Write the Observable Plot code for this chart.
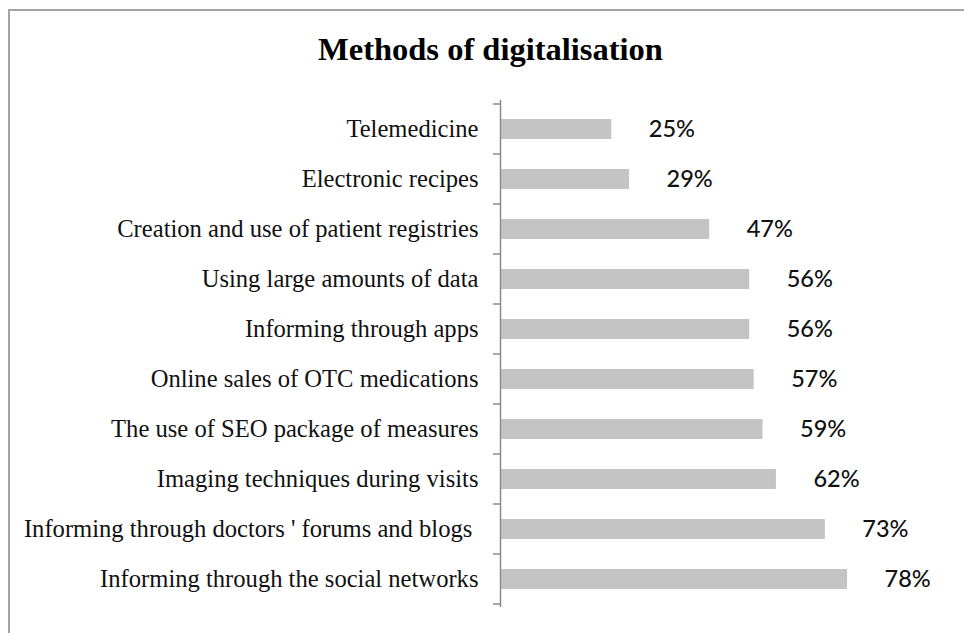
<!DOCTYPE html>
<html>
<head>
<meta charset="utf-8">
<script src="https://cdn.jsdelivr.net/npm/d3@7"></script>
<script src="https://cdn.jsdelivr.net/npm/@observablehq/plot@0.6"></script>
<style>
  html, body { margin: 0; padding: 0; background: #fff; }
  #wrap { position: relative; width: 964px; height: 633px; overflow: hidden; background: #fff; }
  #frame { position: absolute; left: 8px; top: 9px; width: 1000px; height: 700px;
           border-left: 2px solid #a3a3a3; border-top: 2px solid #a3a3a3; box-sizing: border-box; }
  #title { position: absolute; left: 0; top: 33px; width: 981px; text-align: center;
           font-family: "Liberation Serif", "Times New Roman", serif; font-weight: bold;
           font-size: 32.5px; line-height: 32px; color: #000; }
  #chart { position: absolute; left: 0; top: 0; }
</style>
</head>
<body>
<div id="wrap">
  <div id="frame"></div>
  <div id="chart"></div>
  <div id="title">Methods of digitalisation</div>
</div>
<script>
const categories = [
  "Telemedicine",
  "Electronic recipes",
  "Creation and use of patient registries",
  "Using large amounts of data",
  "Informing through apps",
  "Online sales of OTC medications",
  "The use of SEO package of measures",
  "Imaging techniques during visits",
  "Informing through doctors ' forums and blogs\u00a0",
  "Informing through the social networks"
];
const values = [25, 29, 47, 56, 56, 57, 59, 62, 73, 78];
const valueLabels = values.map(v => v + "%");

const data = categories.map((c, i) => ({category: c, value: values[i], label: valueLabels[i]}));

const PAD_INNER = 0.6, PAD_OUTER = 0.3;

function bandTicks(index, scales, values, dims) {
  const y = scales.y;
  const step = y(categories[1]) - y(categories[0]);
  const bounds = categories.map(c => y(c) - step * PAD_INNER / 2);
  bounds.push(y(categories[categories.length - 1]) + step * (1 - PAD_INNER / 2));
  const g = d3.create("svg:g");
  g.selectAll("line").data(bounds).join("line")
    .attr("x1", dims.marginLeft - 7).attr("x2", dims.marginLeft)
    .attr("y1", d => d).attr("y2", d => d)
    .attr("stroke", "#8a8a8a").attr("stroke-width", 1.5);
  return g.node();
}

const chart = Plot.plot({
  width: 964,
  height: 633,
  marginLeft: 500,
  marginRight: 19,
  marginTop: 100,
  marginBottom: 26,
  style: {fontFamily: "'Liberation Serif', 'Times New Roman', serif", fontSize: "24.6px", color: "#111", background: "transparent"},
  x: {domain: [0, 100], axis: null},
  y: {domain: categories, paddingInner: PAD_INNER, paddingOuter: PAD_OUTER, tickSize: 0, tickPadding: 22, label: null},
  marks: [
    Plot.barX(data, {x: "value", y: "category", fill: "#c4c4c4"}),
    Plot.ruleX([0], {stroke: "#8a8a8a", strokeWidth: 1.5}),
    bandTicks,
    Plot.text(data, {x: "value", y: "category", text: "label", textAnchor: "start", dx: 37,
      fontFamily: "Lato", fontSize: 23.5, fontWeight: 500, fill: "#111"})
  ]
});
document.getElementById("chart").appendChild(chart);
</script>
</body>
</html>
